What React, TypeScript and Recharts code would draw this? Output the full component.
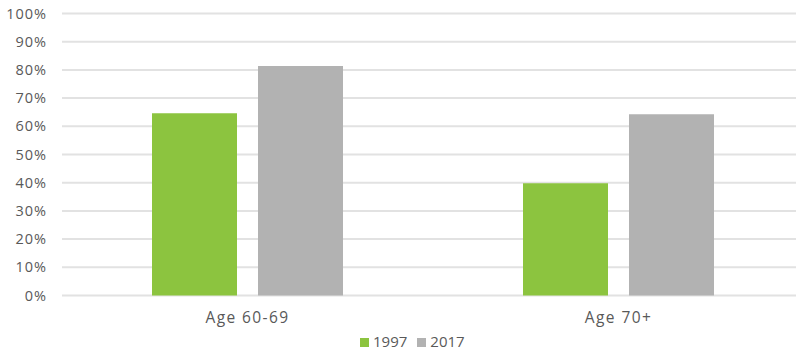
import { BarChart, Bar, XAxis, YAxis, CartesianGrid, Legend } from "recharts"

const categories = ["Age 60-69", "Age 70+"]
const values1997 = [0.646, 0.398]
const values2017 = [0.814, 0.643]
const yTicks = [0, 0.1, 0.2, 0.3, 0.4, 0.5, 0.6, 0.7, 0.8, 0.9, 1]

const data = categories.map((name, i) => ({ name, y1997: values1997[i], y2017: values2017[i] }))

const font = "'Open Sans', sans-serif"
const textColor = "#595959"

export default function App() {
  return (
    <div style={{ position: "fixed", left: 0, top: 0, width: 796, height: 353, overflow: "hidden", background: "#fff" }}>
      <BarChart
        width={804}
        height={353}
        data={data}
        margin={{ top: 13.5, right: 0, left: 0, bottom: 17.5 }}
        barGap={21}
        barSize={85}
      >
        <CartesianGrid vertical={false} stroke="#e2e2e2" strokeWidth={2} />
        <XAxis
          dataKey="name"
          height={40}
          axisLine={false}
          tickLine={false}
          tickMargin={10}
          tick={{ fill: textColor, fontSize: 15.5, fontFamily: font, letterSpacing: 1.4 }}
        />
        <YAxis
          width={62}
          domain={[0, 1]}
          ticks={yTicks}
          interval={0}
          axisLine={false}
          tickLine={false}
          tickMargin={9}
          tickFormatter={(v: number) => `${Math.round(v * 100)}%`}
          tick={{ fill: textColor, fontSize: 14.5, fontFamily: font, letterSpacing: 1 }}
        />
        <Legend
          layout="horizontal"
          verticalAlign="middle"
          align="center"
          iconType="square"
          iconSize={9}
          wrapperStyle={{ top: 331, left: 360, width: "auto", fontFamily: font, fontSize: 15 }}
          formatter={(value: string) => <span style={{ color: textColor }}>{value}</span>}
        />
        <Bar dataKey="y1997" name="1997" fill="#8cc43f" isAnimationActive={false} />
        <Bar dataKey="y2017" name="2017" fill="#b2b2b2" isAnimationActive={false} />
      </BarChart>
    </div>
  )
}
